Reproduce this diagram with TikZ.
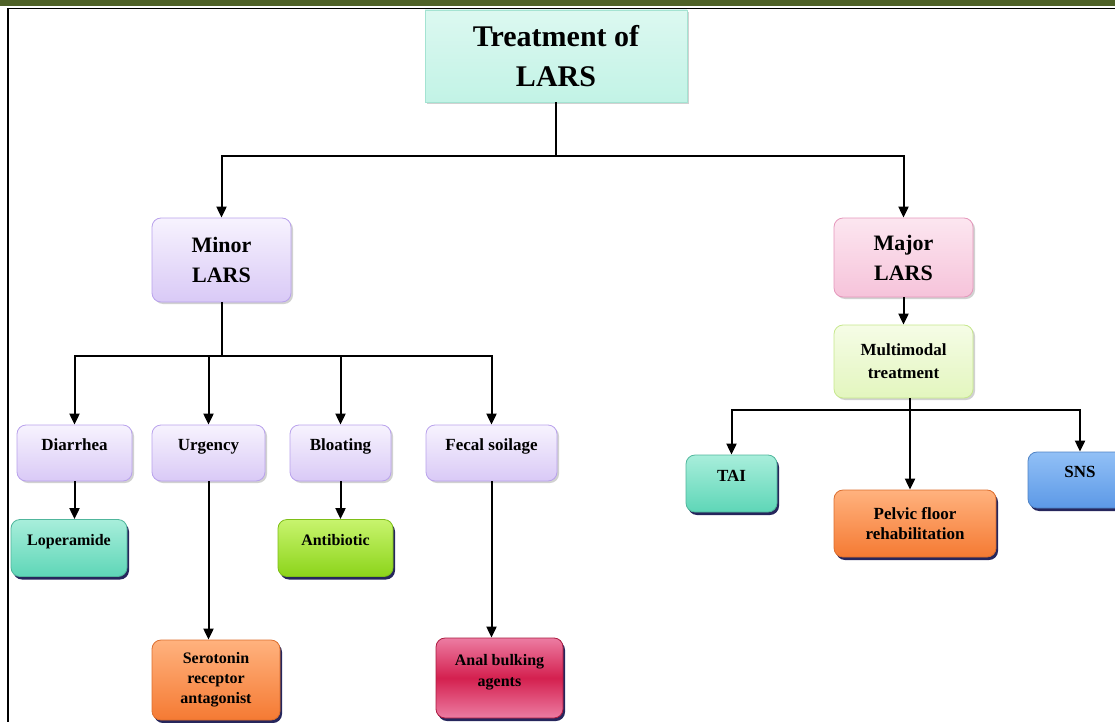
\documentclass[tikz,border=0pt]{standalone}
\usepackage{fontspec}
\setmainfont{Liberation Serif}
\usetikzlibrary{arrows.meta,shadows}

\definecolor{barolive}{RGB}{79,98,40}
\definecolor{lavtop}{HTML}{F7F3FE}
\definecolor{lavbot}{HTML}{D9C9F6}
\definecolor{lavline}{HTML}{B9A2EC}
\definecolor{teallight}{HTML}{A8EEDB}
\definecolor{tealdark}{HTML}{5ED6B7}
\definecolor{limelight}{HTML}{C8F46E}
\definecolor{limedark}{HTML}{8CD41A}
\definecolor{orlight}{HTML}{FFB27E}
\definecolor{ordark}{HTML}{F57A33}
\definecolor{crimlight}{HTML}{EC7CA2}
\definecolor{crimdark}{HTML}{D4204F}
\definecolor{bluelight}{HTML}{92C0F6}
\definecolor{bluedark}{HTML}{5C99E7}
\definecolor{pinktop}{HTML}{FCE6F0}
\definecolor{pinkbot}{HTML}{F6C3DA}
\definecolor{pinkline}{HTML}{E597BB}
\definecolor{mmtop}{HTML}{F5FCE6}
\definecolor{mmbot}{HTML}{E3F6BE}
\definecolor{mmline}{HTML}{C6E78C}

\begin{document}
\begin{tikzpicture}
        [x=1pt, y=-1pt,
        box/.style={draw, rounded corners=9pt, line width=0.8pt, align=center, inner sep=2pt,
          font=\bfseries\fontsize{17}{21}\selectfont},
        size/.style 2 args={minimum width=#1pt, minimum height=#2pt},
        pale/.style={drop shadow={shadow xshift=2pt, shadow yshift=-2pt, fill=gray!60, opacity=0.6}},
        deep/.style={drop shadow={shadow xshift=2pt, shadow yshift=-3pt, fill=black!75!blue, opacity=0.85}},
        up/.style={text height=11pt, text depth=16pt},
        lav/.style={box, pale, top color=lavtop, bottom color=lavbot, draw=lavline},
        teal/.style={box, deep, top color=teallight, bottom color=tealdark, draw=tealdark!85!black},
        lime/.style={box, deep, top color=limelight, bottom color=limedark, draw=limedark!90!black},
        orng/.style={box, deep, top color=orlight, bottom color=ordark, draw=ordark!90!black},
        crim/.style={box, deep, top color=crimlight, bottom color=crimlight, middle color=crimdark, draw=crimdark!80!black},
        blu/.style={box, deep, top color=bluelight, bottom color=bluedark, draw=bluedark!85!black},
        link/.style={line width=2pt, black},
        arr/.style={link, -{Triangle[length=11pt, width=10pt]}}]

        \useasboundingbox (0,0) rectangle (1115,722);

        % page frame
        \fill[barolive] (0,0) rectangle (1115,6);
        \draw[line width=1.2pt] (8,8.5) -- (1115,8.5);
        \draw[line width=1.2pt] (8,8.5) -- (8,722);

        % top and second level
        \node[box, pale, rounded corners=0pt, size={262}{92}, top color=teallight!40!white,
          bottom color=teallight!70!white, draw=teallight!90!gray,
          font=\bfseries\fontsize{30}{40}\selectfont] (top) at (556,56) {Treatment of\\LARS};
        \node[lav, size={139}{84}, font=\bfseries\fontsize{22}{30}\selectfont] (minor) at (221.5,260) {Minor\\LARS};
        \node[box, pale, size={139}{79}, top color=pinktop, bottom color=pinkbot,
          draw=pinkline, font=\bfseries\fontsize{22}{30}\selectfont] (major) at (903.5,257.5) {Major\\LARS};
        \node[box, pale, size={139}{73}, top color=mmtop, bottom color=mmbot,
          draw=mmline, font=\bfseries\fontsize{17}{23}\selectfont] (multi) at (903.5,361.5) {Multimodal\\treatment};

        % minor symptoms
        \node[lav, up, size={115}{56}] (diarrhea) at (74.5,453) {Diarrhea};
        \node[lav, up, size={113}{56}] (urgency) at (208.5,453) {Urgency};
        \node[lav, up, size={101}{56}] (bloating) at (340.5,453) {Bloating};
        \node[lav, up, size={131}{56}] (fecal) at (491.5,453) {Fecal soilage};

        % minor treatments
        \node[teal, up, size={116}{57}, font=\bfseries\fontsize{16}{20}\selectfont] (lope) at (69,548) {Loperamide};
        \node[lime, up, size={115}{57}, font=\bfseries\fontsize{16}{20}\selectfont] (anti) at (335.5,548) {Antibiotic};
        \node[orng, size={128}{80}, font=\bfseries\fontsize{16}{20}\selectfont] (sero) at (216,680) {Serotonin\\receptor\\antagonist};
        \node[crim, size={127}{80}, font=\bfseries\fontsize{16}{21}\selectfont] (anal) at (499.5,678) {Anal bulking\\agents\\[-5pt]};

        % major treatments
        \node[teal, up, size={91}{57}] (tai) at (731.5,483.5) {TAI};
        \node[orng, size={162}{67}, font=\bfseries\fontsize{17}{20}\selectfont] (pelvic) at (915,523.5) {Pelvic floor\\rehabilitation};
        \node[blu, up, size={104}{56}] (sns) at (1080,480) {SNS};

        % junctions
        \coordinate (jt) at (556,156);
        \coordinate (jm) at (221.5,356);
        \coordinate (jr) at (910,410);

        \draw[link] (top) -- (jt);
        \draw[arr] (jt) -| (minor);
        \draw[arr] (jt) -| (major);
        \draw[arr] (major) -- (multi);

        \draw[link] (minor) -- (jm);
        \draw[arr] (jm) -| (diarrhea);
        \draw[arr] (jm) -| (urgency);
        \draw[arr] (jm) -| (bloating);
        \draw[arr] (jm) -| (fecal);

        \draw[arr] (diarrhea) -- (diarrhea |- lope.north);
        \draw[arr] (urgency) -- (urgency |- sero.north);
        \draw[arr] (bloating) -- (bloating |- anti.north);
        \draw[arr] (fecal) -- (fecal |- anal.north);

        \draw[link] (multi.south -| jr) -- (jr);
        \draw[arr] (jr) -| (tai);
        \draw[arr] (jr) -- (jr |- pelvic.north);
        \draw[arr] (jr) -| (sns);

    \end{tikzpicture}
\end{document}
